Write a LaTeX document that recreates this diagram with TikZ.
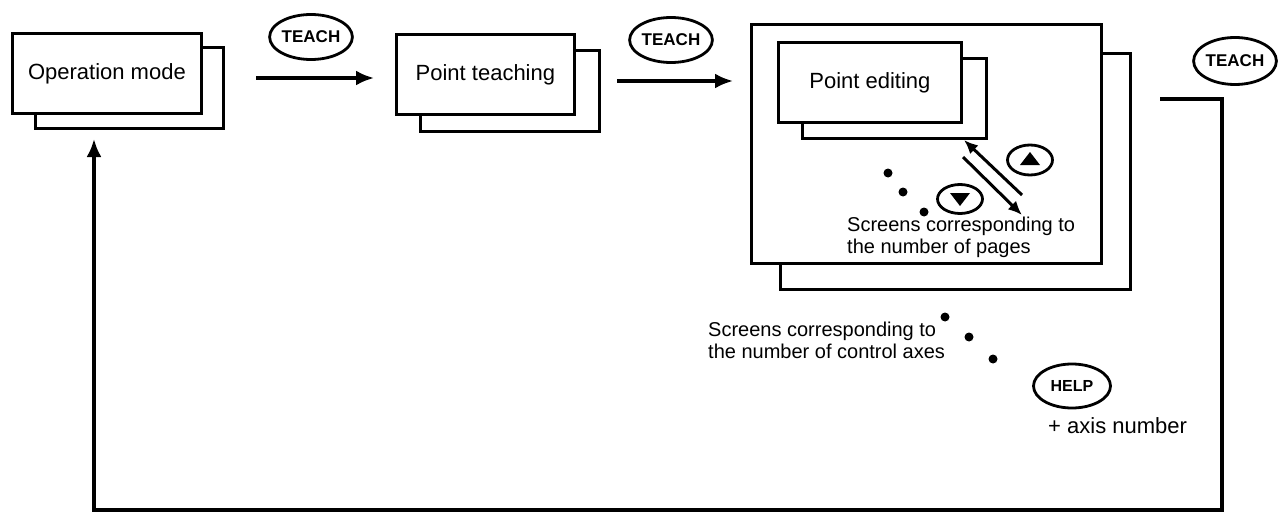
\documentclass[tikz,border=0pt]{standalone}
\usepackage{fontspec}
\setmainfont{Liberation Sans}
\usetikzlibrary{arrows.meta,shapes.geometric}
\begin{document}
\begin{tikzpicture}[x=1pt,y=-1pt,
  screen/.style={draw, fill=white, line width=2.8pt, inner sep=0pt, anchor=north west},
  lbl/.style={font=\fontsize{22}{26}\selectfont},
  note/.style={font=\fontsize{20}{22}\selectfont, align=left, inner sep=0pt, anchor=north west},
  key/.style={ellipse, draw, line width=2.8pt, inner sep=0pt, fill=white},
  keytext/.style={font=\bfseries\fontsize{17}{17}\selectfont},
  flow/.style={line width=3.2pt, -{Latex[length=18pt,width=15pt]}},
  thin flow/.style={line width=3pt, -{Latex[length=14pt,width=12pt]}},
  dot/.style={circle, fill=black, inner sep=0pt, minimum size=9pt}]

\useasboundingbox[fill=white] (0,0) rectangle (1285,527);

% Operation mode screen (back sheet, then front sheet)
\node[screen, minimum width=188pt, minimum height=81pt] (opB) at (34,46) {};
\node[screen, lbl, minimum width=189pt, minimum height=80pt] (opF) at (11,32) {Operation mode};

% Point teaching screen
\node[screen, minimum width=179pt, minimum height=81pt] (ptB) at (419,49) {};
\node[screen, lbl, minimum width=178pt, minimum height=80pt] (ptF) at (395,33) {Point teaching};

% Point editing: axis screens with page screens inside
\node[screen, minimum width=350pt, minimum height=236pt] (axB) at (779,52) {};
\node[screen, minimum width=350pt, minimum height=239pt] (axF) at (750,23) {};
\node[screen, minimum width=184pt, minimum height=80pt] (peB) at (801,57) {};
\node[screen, lbl, minimum width=183pt, minimum height=80pt] (peF) at (777,41) {Point editing};

% TEACH keys
\node[key, keytext, minimum width=77pt, minimum height=45pt] (t1) at (311,37) {TEACH};
\node[key, keytext, minimum width=75pt, minimum height=45pt] (t2) at (671,40) {TEACH};
\node[key, keytext, minimum width=76pt, minimum height=47pt] (t3) at (1235,61) {TEACH};

% Transitions between screens
\coordinate (a1s) at (256,78);
\coordinate (a1e) at (374,78);
\coordinate (a2s) at (617,81);
\coordinate (a2e) at (733,81);
\draw[flow] (a1s) -- (a1e);
\draw[flow] (a2s) -- (a2e);

% Return path to operation mode
\coordinate (rs) at (1160,99);
\coordinate (rc) at (1222,510);
\coordinate (re) at (94,139);
\draw[flow] (rs) -| (rc) -| (re);

% Page up / page down within point editing
\coordinate (upTip) at (964,140);
\coordinate (upEnd) at (1022,195);
\coordinate (dnEnd) at (963,157);
\coordinate (dnTip) at (1022,215);
\draw[thin flow] (upEnd) -- (upTip);
\draw[thin flow] (dnEnd) -- (dnTip);

\node[key, minimum width=45pt, minimum height=30pt] (kUp) at (1030,160) {};
\fill (kUp.center) ++(-10,5) -- ++(20,0) -- ++(-10,-13) -- cycle;
\node[key, minimum width=45pt, minimum height=29pt] (kDn) at (960,199) {};
\fill (kDn.center) ++(-10,-6) -- ++(20,0) -- ++(-10,13) -- cycle;

% Ellipsis for page screens
\node[dot] (p1) at (888,173) {};
\node[dot] (p2) at (903,192) {};
\node[dot] (p3) at (924,212) {};
\node[note] (pages) at (847,217) {Screens corresponding to\\the number of pages};

% Ellipsis for axis screens
\node[dot] (x1) at (945,317) {};
\node[dot] (x2) at (969,337) {};
\node[dot] (x3) at (993,359) {};
\node[note] (axes) at (708,322) {Screens corresponding to\\the number of control axes};

% HELP key
\node[key, font=\bfseries\fontsize{16}{16}\selectfont, minimum width=77pt, minimum height=44pt] (help) at (1072,386) {HELP};
\node[lbl, inner sep=0pt, anchor=base west] (axn) at (1048,433) {+ axis number};

\end{tikzpicture}
\end{document}
